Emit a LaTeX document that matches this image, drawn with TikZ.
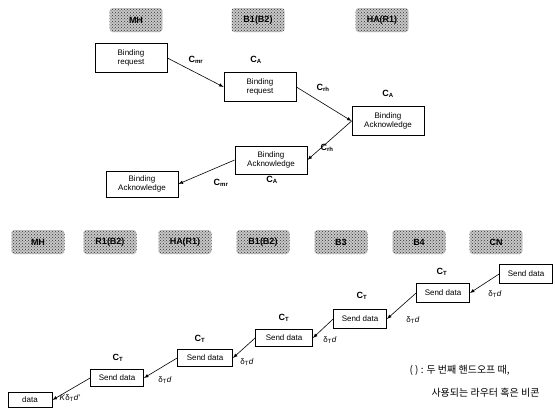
\documentclass[tikz,border=0pt]{standalone}
\usepackage{fontspec}
\setmainfont{Liberation Sans}
\newfontfamily\krfont{Noto Sans CJK KR}
\usetikzlibrary{patterns}
\begin{document}
\begin{tikzpicture}[x=1pt,y=-1pt,
  hdr/.style={preaction={fill=black!22}, pattern=crosshatch dots, pattern color=black!80, rounded corners=3pt, minimum width=53pt, minimum height=24pt, inner sep=0pt, font=\bfseries\small},
  bindbox/.style={draw, line width=0.8pt, align=center, inner sep=1pt, minimum width=72pt, minimum height=29pt, font=\footnotesize},
  sendbox/.style={draw, line width=0.8pt, inner sep=1pt, minimum width=53pt, minimum height=19pt, font=\footnotesize},
  cost/.style={font=\bfseries\small},
  dlt/.style={font=\footnotesize},
  arr/.style={-latex, line width=0.6pt}]
\useasboundingbox (0,0) rectangle (555,410);
% binding update
\node [hdr] (tmh) at (136,20) {MH};
\node [hdr] (tb1) at (258,20) {B1(B2)};
\node [hdr] (tha) at (382,20) {HA(R1)};
\node [bindbox] (req1) at (131,58) {Binding\\request};
\node [bindbox] (req2) at (260,87) {Binding\\request};
\node [bindbox] (ack1) at (388,121) {Binding\\Acknowledge};
\node [bindbox, minimum height=28pt] (ack2) at (271,160) {Binding\\Acknowledge};
\node [bindbox, minimum height=26pt] (ack3) at (142,184) {Binding\\Acknowledge};
\draw [arr] (req1.east) -- (req2.west);
\draw [arr] (req2.east) -- (ack1.west);
\draw [arr] (ack1.west) -- (ack2.east);
\draw [arr] (ack2.west) -- (ack3.east);
\node [cost] (c1) at (196,60) {C\textsubscript{mr}};
\node [cost] (c2) at (256,60) {C\textsubscript{A}};
\node [cost] (c3) at (323,88) {C\textsubscript{rh}};
\node [cost] (c4) at (388,94) {C\textsubscript{A}};
\node [cost] (c5) at (327,148) {C\textsubscript{rh}};
\node [cost] (c6) at (272,180) {C\textsubscript{A}};
\node [cost] (c7) at (221,183) {C\textsubscript{mr}};
% data delivery
\node [hdr] (bmh) at (38,242) {MH};
\node [hdr] (br1) at (110,242) {R1(B2)};
\node [hdr] (bha) at (185,242) {HA(R1)};
\node [hdr] (bb1) at (263,242) {B1(B2)};
\node [hdr] (bb3) at (341,242) {B3};
\node [hdr] (bb4) at (419,242) {B4};
\node [hdr] (bcn) at (496,242) {CN};
\node [sendbox] (scn) at (526,274) {Send data};
\node [sendbox] (sb4) at (443,293) {Send data};
\node [sendbox] (sb3) at (360,319) {Send data};
\node [sendbox, minimum width=57pt, minimum height=17pt] (sb1) at (284,338) {Send data};
\node [sendbox, minimum width=55pt, minimum height=17pt] (sha) at (205,358) {Send data};
\node [sendbox, minimum height=17pt] (sr1) at (117,378) {Send data};
\node [sendbox, minimum width=44pt, minimum height=15pt] (smh) at (30,400) {data};
\draw [arr] (scn.west) -- (sb4.east);
\draw [arr] (sb4.west) -- (sb3.east);
\draw [arr] (sb3.west) -- (sb1.east);
\draw [arr] (sb1.west) -- (sha.east);
\draw [arr] (sha.west) -- (sr1.east);
\draw [arr] (sr1.west) -- (smh.east);
\node [cost] (t1) at (442,272) {C\textsubscript{T}};
\node [cost] (t2) at (362,296) {C\textsubscript{T}};
\node [cost] (t3) at (284,318) {C\textsubscript{T}};
\node [cost] (t4) at (200,339) {C\textsubscript{T}};
\node [cost] (t5) at (118,358) {C\textsubscript{T}};
\node [dlt] (d1) at (495,294) {δ\textsubscript{T}\textit{d}};
\node [dlt] (d2) at (413,320) {δ\textsubscript{T}\textit{d}};
\node [dlt] (d3) at (330,340) {δ\textsubscript{T}\textit{d}};
\node [dlt] (d4) at (247,362) {δ\textsubscript{T}\textit{d}};
\node [dlt] (d5) at (165,380) {δ\textsubscript{T}\textit{d}};
\node [dlt] (d6) at (70,398) {\textit{K}δ\textsubscript{T}\textit{d'}};
\node [font=\krfont\normalsize, anchor=west] (note1) at (406,370) {( ) : 두 번째 핸드오프 때,};
\node [font=\krfont\normalsize, anchor=west] (note2) at (428,393) {사용되는 라우터 혹은 비콘};
\end{tikzpicture}
\end{document}
